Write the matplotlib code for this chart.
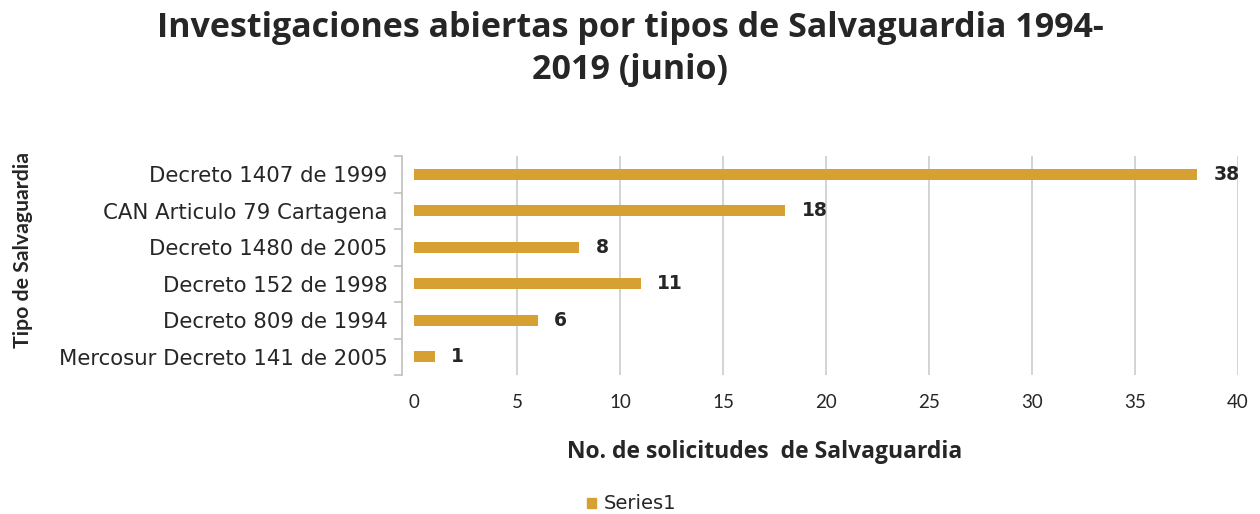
import matplotlib
matplotlib.use("Agg")
import matplotlib.pyplot as plt
from matplotlib.patches import Rectangle

categories = [
    "Decreto 1407 de 1999",
    "CAN Articulo 79 Cartagena",
    "Decreto 1480 de 2005",
    "Decreto 152 de 1998",
    "Decreto 809 de 1994",
    "Mercosur Decreto 141 de 2005",
]
values = [38, 18, 8, 11, 6, 1]
x_ticks = [0, 5, 10, 15, 20, 25, 30, 35, 40]

title = "Investigaciones abiertas por tipos de Salvaguardia 1994-\n2019 (junio)"
x_label = "No. de solicitudes  de Salvaguardia"
y_label = "Tipo de Salvaguardia"
series_name = "Series1"

bar_color = "#D6A033"
text_color = "#262626"
grid_color = "#C9CCD0"

plt.rcParams["font.family"] = ["DejaVu Sans"]

fig = plt.figure(figsize=(12.6, 5.14), dpi=100)
ax = fig.add_axes([0.3286, 0.2704, 0.654, 0.4261])

ypos = list(range(len(categories)))
ax.barh(ypos, values, height=0.29, color=bar_color, zorder=3)
ax.set_ylim(len(categories) - 0.5, -0.5)
ax.set_xlim(0, 40)

for y, v in zip(ypos, values):
    ax.annotate(str(v), xy=(v, y), xytext=(12, 0), textcoords="offset points",
                ha="left", va="center", fontsize=13.5, fontweight="bold",
                color=text_color)

ax.set_xticks(x_ticks)
ax.set_xticklabels([str(t) for t in x_ticks])
ax.tick_params(axis="x", length=0, pad=14, labelsize=13.5, labelcolor=text_color)
for lbl in ax.get_xticklabels():
    lbl.set_family(["Lato", "DejaVu Sans"])
ax.grid(axis="x", color=grid_color, linewidth=1.2, zorder=0)
ax.xaxis.get_gridlines()[0].set_visible(False)

ax.set_yticks(ypos)
ax.set_yticklabels(categories)
ax.set_yticks([i - 0.5 for i in range(len(categories) + 1)], minor=True)
ax.tick_params(axis="y", which="major", length=0, pad=10, labelsize=15.3,
               labelcolor=text_color)
ax.tick_params(axis="y", which="minor", length=6, color="#BFBFBF", width=1.2)

for side in ["top", "right", "bottom"]:
    ax.spines[side].set_visible(False)
ax.spines["left"].set_position(("outward", 9))
ax.spines["left"].set_color("#BFBFBF")
ax.spines["left"].set_linewidth(1.2)

fig.text(0.5, 0.978, title, ha="center", va="top", fontsize=24.5,
         fontweight="bold", family=["Open Sans", "DejaVu Sans"],
         color=text_color, linespacing=1.3)

fig.text(0.607, 0.12, x_label, ha="center", va="center", fontsize=16.5,
         fontweight="bold", family=["Open Sans", "DejaVu Sans"],
         color=text_color)
fig.text(0.018, 0.513, y_label, ha="center", va="center", rotation=90,
         fontsize=15.3, fontweight="bold", family=["Lato", "DejaVu Sans"],
         color=text_color)

# legend entry
fig.patches.append(Rectangle((0.4655, 0.0115), 0.0075, 0.0195,
                             transform=fig.transFigure, color=bar_color))
fig.text(0.479, 0.021, series_name, ha="left", va="center", fontsize=14,
         color=text_color)

fig.savefig("out.png", dpi=100)
